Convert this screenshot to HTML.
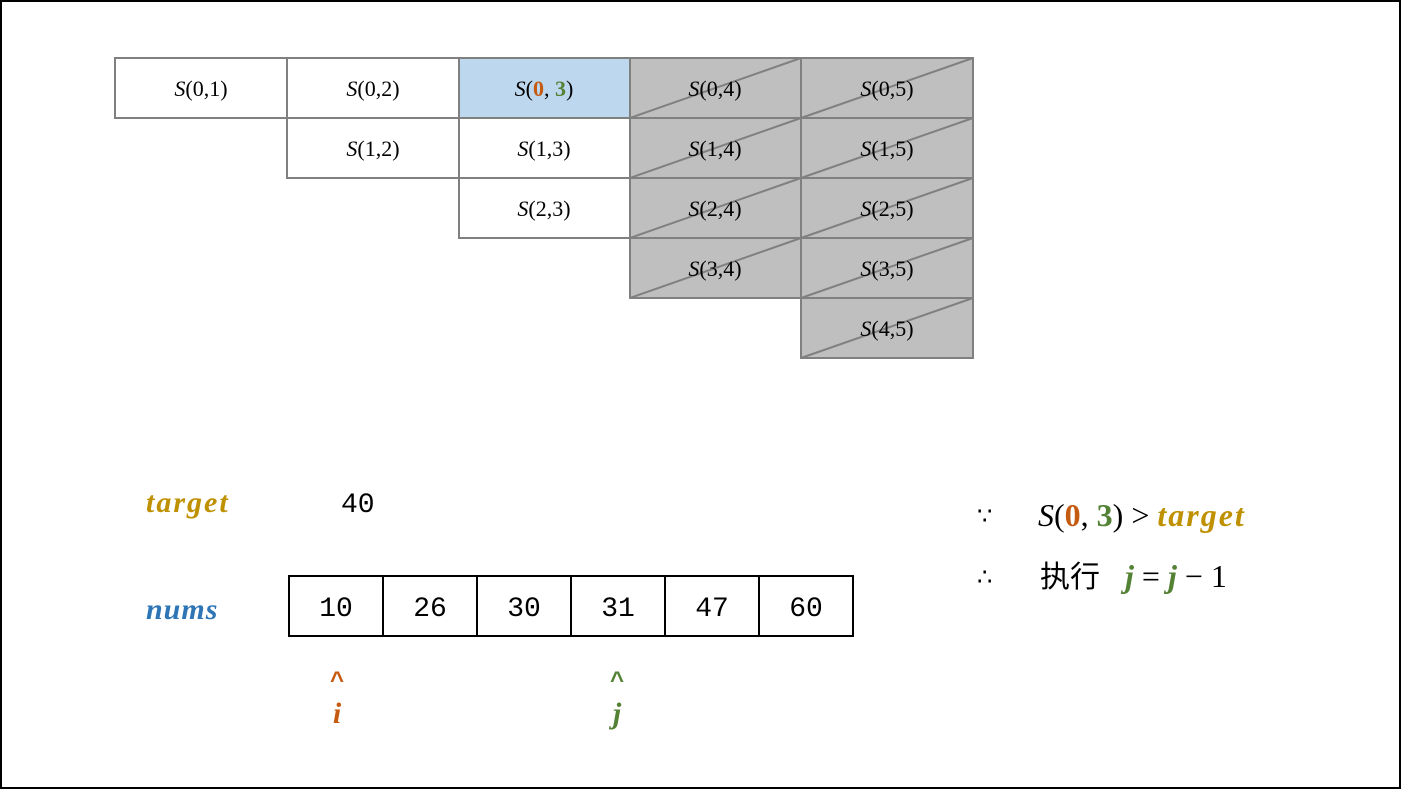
<!DOCTYPE html>
<html><head><meta charset="utf-8"><style>
html,body{margin:0;padding:0;background:#fff}
svg{display:block}
.s{font-family:"Liberation Serif",serif;font-size:22px}
.m{font-family:"Liberation Mono",monospace;font-size:28px}
.b{font-family:"Liberation Serif",serif;font-weight:bold;font-style:italic}
</style></head><body>
<svg width="1401" height="789" xmlns="http://www.w3.org/2000/svg">
<rect x="1" y="1" width="1399" height="787" fill="#fff" stroke="#000" stroke-width="2"/>
<g stroke="#808080" stroke-width="2">
<rect x="115" y="58" width="172" height="60" fill="#fff"/>
<rect x="287" y="58" width="172" height="60" fill="#fff"/>
<rect x="459" y="58" width="171" height="60" fill="#BDD7EE"/>
<rect x="287" y="118" width="172" height="60" fill="#fff"/>
<rect x="459" y="118" width="171" height="60" fill="#fff"/>
<rect x="459" y="178" width="171" height="60" fill="#fff"/>
<g fill="#BFBFBF">
<rect x="630" y="58" width="171" height="60"/><rect x="801" y="58" width="172" height="60"/>
<rect x="630" y="118" width="171" height="60"/><rect x="801" y="118" width="172" height="60"/>
<rect x="630" y="178" width="171" height="60"/><rect x="801" y="178" width="172" height="60"/>
<rect x="630" y="238" width="171" height="60"/><rect x="801" y="238" width="172" height="60"/>
<rect x="801" y="298" width="172" height="60"/>
</g>
<g fill="none">
<path d="M630 118L801 58M801 118L973 58M630 178L801 118M801 178L973 118M630 238L801 178M801 238L973 178M630 298L801 238M801 298L973 238M801 358L973 298"/>
</g>
</g>
<g class="s" text-anchor="middle">
<text x="201" y="96"><tspan font-style="italic">S</tspan>(0,1)</text>
<text x="373" y="96"><tspan font-style="italic">S</tspan>(0,2)</text>
<text x="544" y="96"><tspan font-style="italic">S</tspan>(<tspan fill="#C55A11" font-weight="bold">0</tspan>, <tspan fill="#548235" font-weight="bold">3</tspan>)</text>
<text x="715" y="96"><tspan font-style="italic">S</tspan>(0,4)</text>
<text x="887" y="96"><tspan font-style="italic">S</tspan>(0,5)</text>
<text x="373" y="156"><tspan font-style="italic">S</tspan>(1,2)</text>
<text x="544" y="156"><tspan font-style="italic">S</tspan>(1,3)</text>
<text x="715" y="156"><tspan font-style="italic">S</tspan>(1,4)</text>
<text x="887" y="156"><tspan font-style="italic">S</tspan>(1,5)</text>
<text x="544" y="216"><tspan font-style="italic">S</tspan>(2,3)</text>
<text x="715" y="216"><tspan font-style="italic">S</tspan>(2,4)</text>
<text x="887" y="216"><tspan font-style="italic">S</tspan>(2,5)</text>
<text x="715" y="276"><tspan font-style="italic">S</tspan>(3,4)</text>
<text x="887" y="276"><tspan font-style="italic">S</tspan>(3,5)</text>
<text x="887" y="336"><tspan font-style="italic">S</tspan>(4,5)</text>
</g>
<text x="146" y="512" class="b" font-size="30" fill="#BF9000" letter-spacing="2">target</text>
<text x="341" y="512" class="m">40</text>
<text x="146" y="619" class="b" font-size="30" fill="#2E75B6" letter-spacing="1">nums</text>
<g fill="#fff" stroke="#000" stroke-width="2">
<rect x="289" y="576" width="94" height="60"/><rect x="383" y="576" width="94" height="60"/>
<rect x="477" y="576" width="94" height="60"/><rect x="571" y="576" width="94" height="60"/>
<rect x="665" y="576" width="94" height="60"/><rect x="759" y="576" width="94" height="60"/>
</g>
<g class="m" text-anchor="middle">
<text x="336" y="616">10</text><text x="430" y="616">26</text><text x="524" y="616">30</text>
<text x="618" y="616">31</text><text x="712" y="616">47</text><text x="806" y="616">60</text>
</g>
<text x="337" y="688" font-family="Liberation Sans,sans-serif" font-weight="bold" font-size="24" fill="#C55A11" text-anchor="middle">^</text>
<text x="337" y="723" class="b" font-size="30" fill="#C55A11" text-anchor="middle">i</text>
<text x="617" y="688" font-family="Liberation Sans,sans-serif" font-weight="bold" font-size="24" fill="#548235" text-anchor="middle">^</text>
<text x="617" y="723" class="b" font-size="30" fill="#548235" text-anchor="middle">j</text>
<text x="977" y="524" font-family="DejaVu Sans,sans-serif" font-size="24">∵</text>
<text x="1038" y="526" font-family="Liberation Serif,serif" font-size="32"><tspan font-style="italic">S</tspan>(<tspan fill="#C55A11" font-weight="bold">0</tspan>, <tspan fill="#548235" font-weight="bold">3</tspan>) &gt; <tspan fill="#BF9000" font-weight="bold" font-style="italic" letter-spacing="2">target</tspan></text>
<text x="977" y="585" font-family="DejaVu Sans,sans-serif" font-size="24">∴</text>
<text x="1040" y="587" font-family="Liberation Sans,Noto Sans CJK SC,sans-serif" font-size="30">执行</text>
<text x="1125" y="587" font-family="Liberation Serif,serif" font-size="32"><tspan fill="#548235" font-weight="bold" font-style="italic">j</tspan> = <tspan fill="#548235" font-weight="bold" font-style="italic">j</tspan> − 1</text>
</svg>
</body></html>
